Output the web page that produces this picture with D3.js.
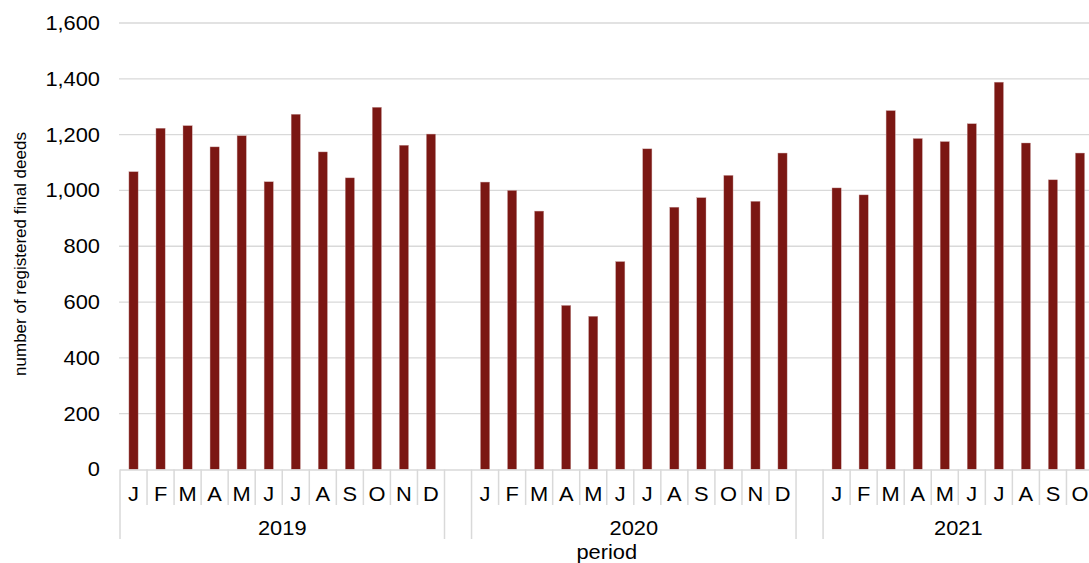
<!DOCTYPE html>
<html>
<head>
<meta charset="utf-8">
<script src="https://cdn.jsdelivr.net/npm/d3@7"></script>
<style>
  html, body { margin: 0; padding: 0; background: #ffffff; }
  svg { display: block; }
  text { font-family: "Liberation Sans", Arial, sans-serif; fill: #000; }
</style>
</head>
<body>
<svg id="chart" width="1089" height="563"></svg>
<script>
// ---- data ----
const years = ["2019", "2020", "2021"];
const months = ["J", "F", "M", "A", "M", "J", "J", "A", "S", "O", "N", "D"];
const values2019 = [1067, 1223, 1232, 1156, 1196, 1031, 1273, 1138, 1045, 1298, 1162, 1202];
const values2020 = [1030, 1000, 926, 588, 549, 745, 1149, 940, 974, 1054, 961, 1134];
const values2021 = [1009, 984, 1286, 1186, 1175, 1239, 1388, 1170, 1038, 1134];
const yTicks = [0, 200, 400, 600, 800, 1000, 1200, 1400, 1600];
const yLabel = "number of registered final deeds";
const xLabel = "period";

const seriesByYear = [values2019, values2020, values2021];

// build slot list (with one empty slot between years)
const slots = [];
const groups = [];
seriesByYear.forEach((vals, yi) => {
  const keys = [];
  vals.forEach((v, mi) => {
    const key = years[yi] + "-" + mi;
    slots.push({ key, year: years[yi], month: months[mi], value: v, empty: false });
    keys.push(key);
  });
  groups.push({ year: years[yi], keys });
  if (yi < seriesByYear.length - 1) slots.push({ key: "gap" + yi, empty: true });
});

const svg = d3.select("#chart");
const left = 120, right = 1093.5, y0 = 469.5, yTop = 23;

const x = d3.scaleBand()
  .domain(slots.map(d => d.key))
  .range([left, right])
  .paddingInner(0.66)
  .paddingOuter(0.33);
const step = x.step();

const y = d3.scaleLinear().domain([0, 1600]).range([y0, yTop]);

const gridColor = "#d9d9d9";
const SX = 1.12; // horizontal stretch of text seen in the reference
const fs = 19.5;

function stretchedText(g, tx, ty, str, anchor, size, sx) {
  return g.append("text")
    .attr("transform", `translate(${tx},${ty}) scale(${sx},1)`)
    .attr("text-anchor", anchor)
    .style("font-size", size + "px")
    .text(str);
}

// gridlines
const grid = svg.append("g");
yTicks.forEach(t => {
  if (t === 0) return;
  grid.append("line")
    .attr("x1", left - 1).attr("x2", 1089)
    .attr("y1", y(t)).attr("y2", y(t))
    .attr("stroke", gridColor).attr("stroke-width", 1.3);
});

// y tick labels
const yl = svg.append("g");
yTicks.forEach(t => {
  stretchedText(yl, 100, y(t) + fs * 0.355, d3.format(",")(t), "end", fs, SX);
});

// bars
svg.append("g").selectAll("rect")
  .data(slots.filter(d => !d.empty))
  .join("rect")
  .attr("x", d => x(d.key))
  .attr("width", x.bandwidth())
  .attr("y", d => y(d.value))
  .attr("height", d => y0 - y(d.value))
  .attr("fill", "#7b1713")
  .attr("stroke", "#c9a0a0")
  .attr("stroke-width", 0.4);

// x axis line
svg.append("line")
  .attr("x1", left).attr("x2", 1089)
  .attr("y1", y0 + 0.5).attr("y2", y0 + 0.5)
  .attr("stroke", gridColor).attr("stroke-width", 1.5);

// ticks and labels
const ax = svg.append("g");
groups.forEach(gr => {
  const gStart = x(gr.keys[0]) - (step - x.bandwidth()) / 2;
  const gEnd = gStart + step * gr.keys.length;
  // long separators at group edges
  [gStart, gEnd].forEach(px => {
    ax.append("line")
      .attr("x1", px).attr("x2", px)
      .attr("y1", y0).attr("y2", 539)
      .attr("stroke", gridColor).attr("stroke-width", 1.5);
  });
  // short month separators
  for (let i = 1; i < gr.keys.length; i++) {
    const px = gStart + step * i;
    ax.append("line")
      .attr("x1", px).attr("x2", px)
      .attr("y1", y0).attr("y2", 505)
      .attr("stroke", gridColor).attr("stroke-width", 1.5);
  }
  // month labels
  gr.keys.forEach(k => {
    const s = slots.find(d => d.key === k);
    stretchedText(ax, x(k) + x.bandwidth() / 2, 500.8, s.month, "middle", fs, SX);
  });
  // year label
  stretchedText(ax, (gStart + gEnd) / 2, 534.5, gr.year, "middle", fs, SX);
});

// axis titles
stretchedText(svg, (left + right) / 2, 558.5, xLabel, "middle", fs, SX);

svg.append("text")
  .attr("transform", `translate(26,254) rotate(-90)`)
  .attr("text-anchor", "middle")
  .style("font-size", "17px")
  .text(yLabel);
</script>
</body>
</html>
